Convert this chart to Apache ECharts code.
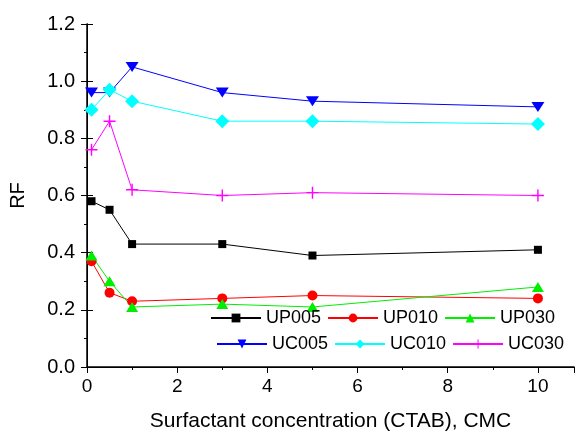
<!DOCTYPE html>
<html style="height: 100%">
<head>
    <meta charset="utf-8">
</head>
<body style="height: 100%; margin: 0">
    <div id="container" style="width: 579px; height: 435px"></div>
    <script type="text/javascript" src="https://cdn.jsdelivr.net/npm/echarts@6/dist/echarts.min.js"></script>
    <script type="text/javascript">
        // surfactant concentration, CMC
        var conc = [0.1, 0.5, 1, 3, 5, 10];

        var up005 = [0.58, 0.55, 0.43, 0.43, 0.39, 0.41];
        var up010 = [0.37, 0.26, 0.23, 0.24, 0.25, 0.24];
        var up030 = [0.39, 0.30, 0.21, 0.22, 0.21, 0.28];
        var uc005 = [0.96, 0.96, 1.05, 0.96, 0.93, 0.91];
        var uc010 = [0.90, 0.97, 0.93, 0.86, 0.86, 0.85];
        var uc030 = [0.76, 0.86, 0.62, 0.60, 0.61, 0.60];

        var names = ['UP005', 'UP010', 'UP030', 'UC005', 'UC010', 'UC030'];
        var values = [up005, up010, up030, uc005, uc010, uc030];
        var colors = ['#000000', '#ff0000', '#00ee00', '#0000ff', '#00ffff', '#ff00ff'];
        var symbols = [
            'rect',
            'circle',
            'triangle',
            'path://M0,0 L10,0 L5,8 Z',
            'diamond',
            'path://M5.3,0 H6.7 V5.3 H12 V6.7 H6.7 V12 H5.3 V6.7 H0 V5.3 H5.3 Z'
        ];
        var sizes = [8, 10, [12, 10], [13, 10], 14, 12];

        function pairs(ys) {
            return conc.map(function (x, i) { return [x, ys[i]]; });
        }

        var font = 'Liberation Sans, Arial, sans-serif';
        var dom = document.getElementById('container');
        var myChart = echarts.init(dom);

        var series = names.map(function (n, i) {
            return {
                name: n,
                type: 'line',
                data: pairs(values[i]),
                symbol: symbols[i],
                symbolSize: sizes[i],
                showAllSymbol: true,
                itemStyle: { color: colors[i] },
                lineStyle: { color: colors[i], width: 1 },
                animation: false
            };
        });

        var legendCommon = {
            orient: 'horizontal',
            itemWidth: 50,
            itemHeight: 11,
            itemGap: 6,
            textStyle: { fontFamily: font, fontSize: 18, color: '#000' },
            padding: 0
        };

        var option = {
            grid: { left: 87, right: 5, top: 24, bottom: 68, outerBoundsMode: 'none', containLabel: false },
            legend: [
                Object.assign({ data: names.slice(0, 3), left: 210, top: 309 }, legendCommon),
                Object.assign({ data: names.slice(3), left: 216, top: 335 }, legendCommon)
            ],
            xAxis: [{
                type: 'value',
                min: 0,
                max: 10.8,
                interval: 2,
                name: 'Surfactant concentration (CTAB), CMC',
                nameLocation: 'middle',
                nameGap: 44,
                nameTextStyle: { fontFamily: font, fontSize: 21, color: '#000' },
                axisLine: { lineStyle: { color: '#000', width: 1.5 } },
                axisTick: { inside: false, length: 6, lineStyle: { color: '#000' } },
                minorTick: { show: true, splitNumber: 2, length: 3, lineStyle: { color: '#000' } },
                axisLabel: { fontFamily: font, fontSize: 19, color: '#000', margin: 10, showMaxLabel: false },
                splitLine: { show: false }
            }, {
                type: 'value',
                position: 'top',
                min: 0,
                max: 10.8,
                interval: 2,
                axisLine: { lineStyle: { color: '#000', width: 1 } },
                axisTick: { inside: true, length: 5, lineStyle: { color: '#000' } },
                minorTick: { show: true, splitNumber: 2, length: 3, lineStyle: { color: '#000' } },
                axisLabel: { show: false },
                splitLine: { show: false }
            }],
            yAxis: [{
                type: 'value',
                min: 0,
                max: 1.2,
                interval: 0.2,
                name: 'RF',
                nameLocation: 'middle',
                nameGap: 59,
                nameTextStyle: { fontFamily: font, fontSize: 20, color: '#000' },
                axisLine: { show: true, lineStyle: { color: '#000', width: 1.5 } },
                axisTick: { show: true, length: 6, lineStyle: { color: '#000' } },
                minorTick: { show: true, splitNumber: 2, length: 3, lineStyle: { color: '#000' } },
                axisLabel: {
                    fontFamily: font, fontSize: 20, color: '#000', margin: 12,
                    formatter: function (v) { return v.toFixed(1); }
                },
                splitLine: { show: false }
            }, {
                type: 'value',
                position: 'right',
                min: 0,
                max: 1.2,
                interval: 0.2,
                axisLine: { show: true, lineStyle: { color: '#000', width: 1 } },
                axisTick: { show: true, length: 6, lineStyle: { color: '#000' } },
                minorTick: { show: false },
                axisLabel: { show: false },
                splitLine: { show: false }
            }],
            series: series
        };

        myChart.setOption(option);
    </script>
</body>
</html>
